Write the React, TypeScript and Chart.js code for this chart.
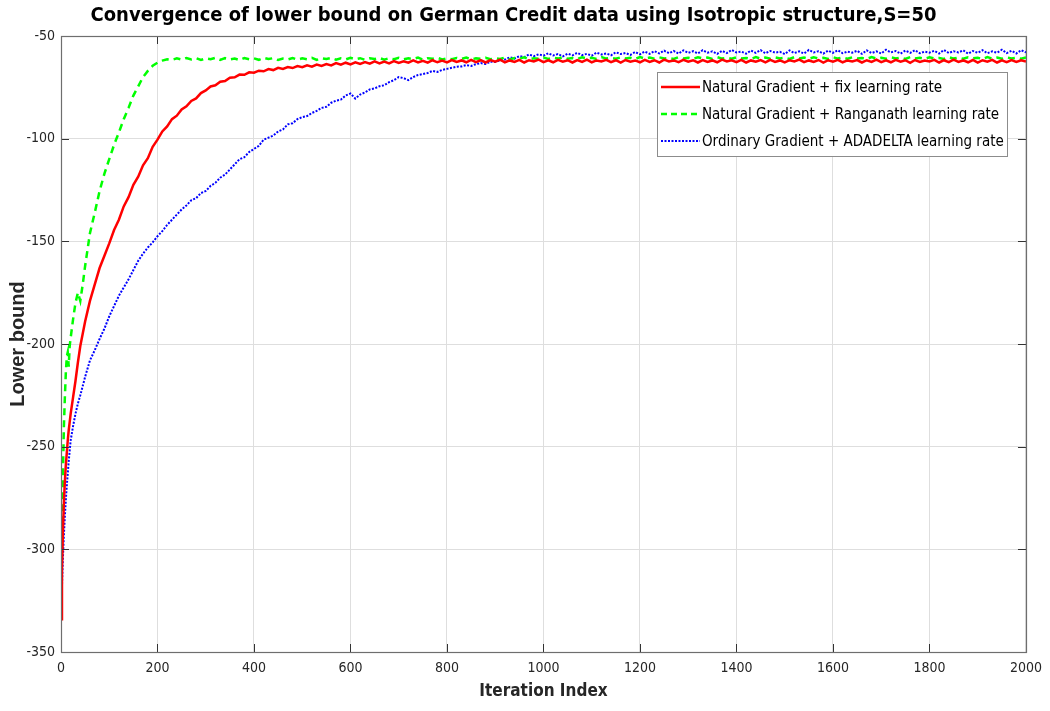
import { useEffect, useRef } from 'react';
import { Chart, registerables } from 'chart.js';

Chart.register(...registerables);

const TITLE = 'Convergence of lower bound on German Credit data using Isotropic structure,S=50';
const X_TITLE = 'Iteration Index';
const Y_TITLE = 'Lower bound';
const SERIES_LABELS = [
  'Natural Gradient + fix learning rate',
  'Natural Gradient + Ranganath learning rate',
  'Ordinary Gradient + ADADELTA learning rate',
];
const X_TICKS = [0, 200, 400, 600, 800, 1000, 1200, 1400, 1600, 1800, 2000];
const Y_TICKS = [-350, -300, -250, -200, -150, -100, -50];

const ITERS = [
  0, 2, 4, 6, 8, 10, 12, 14, 16, 18, 20,
  25, 30, 35, 40, 45, 50, 55, 60,
  70, 80, 90, 100, 110, 120, 130, 140, 150, 160,
  170, 180, 190, 200, 210, 220, 230, 240, 250, 260,
  270, 280, 290, 300, 310, 320, 330, 340, 350, 360,
  370, 380, 390, 400, 410, 420, 430, 440, 450, 460,
  470, 480, 490, 500, 510, 520, 530, 540, 550, 560,
  570, 580, 590, 600, 610, 620, 630, 640, 650, 660,
  670, 680, 690, 700, 710, 720, 730, 740, 750, 760,
  770, 780, 790, 800, 810, 820, 830, 840, 850, 860,
  870, 880, 890, 900, 910, 920, 930, 940, 950, 960,
  970, 980, 990, 1000, 1010, 1020, 1030, 1040, 1050, 1060,
  1070, 1080, 1090, 1100, 1110, 1120, 1130, 1140, 1150, 1160,
  1170, 1180, 1190, 1200, 1210, 1220, 1230, 1240, 1250, 1260,
  1270, 1280, 1290, 1300, 1310, 1320, 1330, 1340, 1350, 1360,
  1370, 1380, 1390, 1400, 1410, 1420, 1430, 1440, 1450, 1460,
  1470, 1480, 1490, 1500, 1510, 1520, 1530, 1540, 1550, 1560,
  1570, 1580, 1590, 1600, 1610, 1620, 1630, 1640, 1650, 1660,
  1670, 1680, 1690, 1700, 1710, 1720, 1730, 1740, 1750, 1760,
  1770, 1780, 1790, 1800, 1810, 1820, 1830, 1840, 1850, 1860,
  1870, 1880, 1890, 1900, 1910, 1920, 1930, 1940, 1950, 1960,
  1970, 1980, 1990, 2000,
];

const RED = [
  -334, -310, -291, -277, -267, -259, -253, -247, -242, -238, -234,
  -226, -218, -209, -201, -195, -189, -184, -179,
  -171, -163, -157, -151, -144.5, -139.5, -133, -128.5, -122.5, -118.5,
  -113, -109.5, -104, -100.5, -96.5, -94, -90.5, -88.8, -85.8, -84.2,
  -81.6, -80.4, -77.8, -76.5, -74.6, -74, -72.3, -71.9, -70.3, -70.1,
  -68.8, -68.9, -67.7, -67.9, -66.9, -67.2, -66.1, -66.6, -65.5, -66,
  -65.1, -65.6, -64.6, -65.2, -64.3, -64.9, -63.9, -64.6, -63.7, -64.3,
  -63.2, -64, -63, -63.8, -62.8, -63.6, -62.7, -63.5, -62.4, -63.4,
  -62.5, -63.3, -62.2, -63.1, -62.3, -63, -61.9, -62.9, -62.1, -63,
  -61.8, -62.8, -62, -62.9, -61.7, -62.6, -61.9, -62.8, -61.6, -62.7,
  -61.8, -62.9, -61.7, -62.5, -61.5, -62.8, -61.9, -62.6, -61.6, -62.9,
  -61.8, -62.4, -61.5, -62.7, -61.9, -62.8, -61.6, -62.5, -61.8, -62.9,
  -61.7, -62.6, -61.5, -62.8, -61.9, -62.4, -61.6, -62.7, -61.8, -63,
  -61.7, -62.5, -61.9, -62.8, -61.6, -62.6, -61.8, -62.9, -61.5, -62.4,
  -61.9, -62.7, -61.6, -62.5, -61.8, -62.9, -61.7, -62.6, -61.9, -62.8,
  -61.5, -62.4, -61.8, -62.7, -61.6, -62.9, -61.9, -62.5, -61.7, -62.8,
  -61.6, -62.6, -61.9, -62.9, -61.8, -62.4, -61.5, -62.7, -61.9, -62.6,
  -61.7, -63, -61.8, -62.5, -61.6, -62.8, -61.9, -62.4, -61.7, -62.9,
  -61.8, -62.6, -61.5, -62.7, -61.9, -62.8, -61.6, -62.5, -61.8, -63.1,
  -61.7, -62.6, -61.9, -62.4, -61.6, -62.9, -61.8, -62.7, -61.5, -62.6,
  -61.9, -62.8, -61.7, -63, -61.8, -62.5, -61.6, -62.9, -61.9, -62.7,
  -61.7, -62.6, -61.8, -62.4,
];

const GREEN = [
  -334, -296, -263, -240, -226, -214, -206, -204, -211, -201, -197,
  -188, -180, -175, -179, -171, -162, -154, -146,
  -136, -125.5, -117, -110, -103, -97, -90.5, -85, -79, -74.5,
  -70, -67, -64.5, -63, -62, -61.3, -61.6, -60.9, -61.5, -60.7,
  -61.4, -60.8, -61.7, -60.9, -61.3, -60.6, -61.6, -60.8, -61.4, -61,
  -61.7, -60.7, -61.3, -60.9, -61.6, -60.6, -61.2, -60.8, -61.7, -61,
  -61.4, -60.7, -61.5, -60.9, -61.3, -60.6, -61.6, -60.8, -61.2, -60.7,
  -61.5, -60.9, -61.4, -60.6, -61.3, -60.8, -61.6, -60.9, -61.2, -60.7,
  -61.5, -60.8, -61.3, -60.6, -61.4, -60.9, -61.2, -60.5, -61.5, -60.8,
  -61.1, -60.6, -61.4, -60.9, -61.3, -60.7, -61.2, -60.5, -61.4, -60.9,
  -61.1, -60.6, -61.3, -60.8, -61.2, -60.5, -61.4, -60.7, -61, -60.4,
  -61.3, -60.8, -61.1, -60.5, -61.2, -60.6, -61, -60.3, -61.1, -60.7,
  -61.2, -60.4, -60.9, -60.6, -61.2, -60.3, -61, -60.7, -61.1, -60.4,
  -60.9, -60.6, -61.2, -60.3, -61, -60.5, -61.1, -60.4, -60.9, -60.7,
  -61.2, -60.3, -61, -60.6, -61.1, -60.4, -60.9, -60.5, -61.2, -60.3,
  -61, -60.6, -61.1, -60.4, -60.9, -60.7, -61.2, -60.3, -61, -60.5,
  -61.1, -60.4, -60.9, -60.6, -61.2, -60.3, -61, -60.5, -61.1, -60.4,
  -60.9, -60.6, -61.2, -60.3, -61, -60.5, -61.1, -60.4, -60.9, -60.7,
  -61.2, -60.3, -61, -60.6, -61.1, -60.4, -60.9, -60.5, -61.2, -60.3,
  -61, -60.6, -61.1, -60.4, -60.9, -60.7, -61.2, -60.3, -61, -60.5,
  -61.1, -60.4, -60.9, -60.6, -61.2, -60.3, -61, -60.5, -61.1, -60.4,
  -60.9, -60.6, -61.1, -60.5,
];

const BLUE = [
  -334, -318, -304, -293, -284, -276, -269, -263, -257, -252, -247,
  -240, -234, -229, -225, -220.5, -216, -212, -208,
  -203, -197.5, -192.5, -186.5, -181.5, -176.5, -172.5, -168.5, -164, -159.5,
  -156, -153, -150.5, -147.5, -145, -142, -139.5, -137, -134.5, -132.5,
  -130, -129, -126.5, -125.5, -123, -121.5, -119, -117.5, -115, -112.5,
  -110, -109, -106.5, -105, -103.5, -100.5, -99.5, -98.5, -96.5, -95.5,
  -93, -92.5, -90.5, -89.5, -89, -87.5, -86.5, -85, -84.5, -82.5,
  -81.5, -81, -79, -78, -80.5, -78.5, -77.5, -76, -75.5, -74.5,
  -74, -72.5, -71.5, -70, -70.5, -71.5, -70, -69, -68.5, -68,
  -67, -67.5, -66.5, -66, -65.5, -65, -64.8, -64.2, -64.6, -63.7,
  -63.2, -63.6, -62.5, -62.7, -61.8, -61.5, -60.4, -61, -59.8, -60.3,
  -59, -59.8, -58.9, -59.6, -58.4, -59.5, -58.8, -59.9, -58.6, -59.4,
  -58.2, -59.3, -58.7, -59.6, -58.1, -59, -58.5, -59.4, -57.9, -58.8,
  -58.3, -59.2, -57.8, -58.9, -57.6, -58.7, -57.4, -58.5, -57.1, -58.4,
  -57.3, -58.6, -57, -58.2, -57.4, -58.5, -56.9, -58.1, -57.5, -58.7,
  -57.2, -58.3, -56.8, -58, -57.6, -58.6, -57.1, -58.2, -56.9, -58.4,
  -57.3, -58.1, -57.7, -58.8, -57, -58.3, -57.5, -58.5, -56.8, -58,
  -57.4, -58.6, -57.1, -58.2, -56.9, -58.4, -57.6, -58.1, -57.2, -58.7,
  -57, -58.3, -57.5, -58.5, -56.7, -58, -57.3, -58.6, -57.1, -58.2,
  -56.9, -58.4, -57.6, -58.1, -57.2, -58.5, -56.8, -58.3, -57.4, -58,
  -57, -58.6, -57.3, -58.2, -56.9, -58.4, -57.5, -58.1, -56.7, -58.3,
  -57.2, -58.5, -56.9, -58,
];

const COLORS = ['#ff0000', '#00ff00', '#0000ff'];
const WIDTHS = [2.5, 2.5, 2];
const DASHES = [[], [7, 5], [2, 1.5]];
const SERIES = [RED, GREEN, BLUE];

const COND = '"DejaVu Sans Condensed", "Liberation Sans", Arial, sans-serif';
const SANS = '"Liberation Sans", Arial, sans-serif';

const framePlugin = {
  id: 'frameAndLegend',
  afterDatasetsDraw(chart: any) {
    const { ctx, chartArea: a, scales } = chart;
    ctx.save();
    ctx.strokeStyle = '#333333';
    ctx.lineWidth = 1;
    ctx.setLineDash([]);
    const tl = 8;
    ctx.beginPath();
    X_TICKS.forEach((v) => {
      const px = Math.round(scales.x.getPixelForValue(v)) + 0.5;
      ctx.moveTo(px, a.bottom);
      ctx.lineTo(px, a.bottom - tl);
      ctx.moveTo(px, a.top);
      ctx.lineTo(px, a.top + tl);
    });
    Y_TICKS.forEach((v) => {
      const py = Math.round(scales.y.getPixelForValue(v)) + 0.5;
      ctx.moveTo(a.left, py);
      ctx.lineTo(a.left + tl, py);
      ctx.moveTo(a.right, py);
      ctx.lineTo(a.right - tl, py);
    });
    ctx.stroke();
    ctx.strokeStyle = '#6e6e6e';
    ctx.lineWidth = 1.2;
    ctx.strokeRect(Math.round(a.left) + 0.5, Math.round(a.top) + 0.5, Math.round(a.right - a.left), Math.round(a.bottom - a.top));

    const lx = 657.5, ly = 72.5, lw = 350, lh = 84;
    ctx.fillStyle = '#ffffff';
    ctx.fillRect(lx, ly, lw, lh);
    ctx.strokeStyle = '#8c8c8c';
    ctx.lineWidth = 1;
    ctx.strokeRect(lx, ly, lw, lh);
    const rows = [87, 114, 141];
    ctx.font = '15px ' + COND;
    ctx.textBaseline = 'middle';
    ctx.textAlign = 'left';
    SERIES_LABELS.forEach((label, i) => {
      ctx.strokeStyle = COLORS[i];
      ctx.lineWidth = WIDTHS[i];
      ctx.setLineDash(i === 1 ? [6, 4] : DASHES[i]);
      ctx.beginPath();
      ctx.moveTo(661, rows[i]);
      ctx.lineTo(700, rows[i]);
      ctx.stroke();
      ctx.setLineDash([]);
      ctx.fillStyle = '#000000';
      ctx.fillText(label, 702, rows[i] + 1);
    });
    ctx.restore();
  },
};

export default function App() {
  const ref = useRef<HTMLCanvasElement | null>(null);

  useEffect(() => {
    if (!ref.current) return;
    const datasets = SERIES.map((vals, i) => ({
      label: SERIES_LABELS[i],
      data: ITERS.map((x, j) => ({ x, y: vals[j] })),
      borderColor: COLORS[i],
      backgroundColor: COLORS[i],
      borderWidth: WIDTHS[i],
      borderDash: DASHES[i],
      pointRadius: 0,
      tension: 0,
      fill: false,
    }));
    const chart = new Chart(ref.current, {
      type: 'line',
      data: { datasets },
      plugins: [framePlugin],
      options: {
        responsive: false,
        animation: false,
        layout: { padding: { left: 0, right: 23, top: 0, bottom: 0 } },
        plugins: {
          legend: { display: false },
          tooltip: { enabled: false },
          title: {
            display: true,
            text: TITLE,
            color: '#000000',
            font: { family: COND, size: 20, weight: 'bold' },
            padding: { top: 4, bottom: 8 },
          },
        },
        scales: {
          x: {
            type: 'linear',
            min: 0,
            max: 2000,
            afterBuildTicks: (s: any) => { s.ticks = X_TICKS.map((v) => ({ value: v })); },
            afterFit: (s: any) => { s.height = 59; },
            ticks: {
              color: '#262626',
              font: { family: COND, size: 14 },
              padding: 8,
              maxRotation: 0,
              autoSkip: false,
              callback: (v: any) => String(v),
            },
            grid: { color: '#dedede', drawTicks: false, lineWidth: 1 },
            border: { display: false },
            title: {
              display: true,
              text: X_TITLE,
              color: '#262626',
              font: { family: COND, size: 17, weight: 'bold' },
              padding: { top: 0, bottom: 9 },
            },
          },
          y: {
            type: 'linear',
            min: -350,
            max: -50,
            afterBuildTicks: (s: any) => { s.ticks = Y_TICKS.map((v) => ({ value: v })); },
            afterFit: (s: any) => { s.width = 61; },
            ticks: {
              color: '#262626',
              font: { family: COND, size: 14 },
              padding: 6,
              autoSkip: false,
              callback: (v: any) => String(v),
            },
            grid: { color: '#dedede', drawTicks: false, lineWidth: 1 },
            border: { display: false },
            title: {
              display: true,
              text: Y_TITLE,
              color: '#262626',
              font: { family: SANS, size: 20, weight: 'bold' },
              padding: { top: 6, bottom: 0 },
            },
          },
        },
      },
    });
    return () => chart.destroy();
  }, []);

  return (
    <div style={{ position: 'fixed', left: 0, top: 0, width: 1050, height: 711, background: '#ffffff' }}>
      <canvas ref={ref} width={1050} height={711} style={{ display: 'block' }} />
    </div>
  );
}
